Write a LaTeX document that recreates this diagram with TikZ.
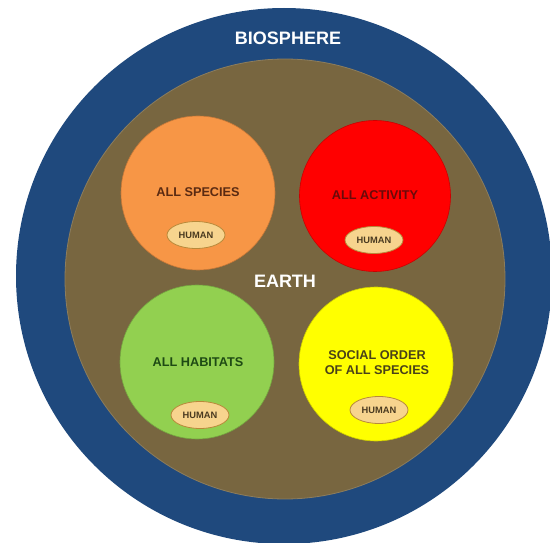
\documentclass[tikz,border=0pt]{standalone}
\usepackage{fontspec}
\setmainfont{Liberation Sans}
\definecolor{bioblue}{HTML}{1F497D}
\definecolor{earthbrown}{HTML}{786640}
\definecolor{corange}{HTML}{F79646}
\definecolor{cred}{HTML}{FF0000}
\definecolor{cgreen}{HTML}{92D050}
\definecolor{cyellow}{HTML}{FFFF00}
\definecolor{humanfill}{HTML}{F7D48E}
\definecolor{humanedge}{HTML}{B8893A}
\definecolor{txtorange}{HTML}{5A2A12}
\definecolor{txtred}{HTML}{6A0A0A}
\definecolor{txtgreen}{HTML}{1E4A14}
\definecolor{txtyellow}{HTML}{4A4218}
\definecolor{txthuman}{HTML}{4A3A20}
\tikzset{
  bigdisk/.style={circle, inner sep=0pt},
  subdisk/.style={circle, inner sep=0pt, minimum size=154pt, draw=#1!80!black, line width=0.6pt, fill=#1},
  human/.style={ellipse, draw=humanedge, line width=0.8pt, fill=humanfill, minimum width=58pt, minimum height=27pt, inner sep=0pt, font=\bfseries\fontsize{9.3}{10}\selectfont, text=txthuman},
  label/.style={font=\bfseries\fontsize{12.7}{15}\selectfont, align=center},
  titletxt/.style={font=\bfseries\fontsize{18}{20}\selectfont, text=white}
}
\usetikzlibrary{shapes.geometric}
\begin{document}
\begin{tikzpicture}[x=1pt,y=-1pt]
\useasboundingbox (0,0) rectangle (550,543);
\fill[white] (0,0) rectangle (550,543);
\node[bigdisk, fill=bioblue, minimum size=536pt] (bio) at (284,276) {};
\node[bigdisk, fill=earthbrown, draw=earthbrown!85!white, line width=0.8pt, minimum size=440pt] (earth) at (285,279) {};
\node[titletxt] (biot) at (288,38) {BIOSPHERE};
\node[titletxt] (eartht) at (285,281) {EARTH};
\node[subdisk=corange] (sp) at (198,193) {};
\node[subdisk=cred, minimum size=151pt] (ac) at (375,196) {};
\node[subdisk=cgreen] (ha) at (197,362) {};
\node[subdisk=cyellow] (so) at (376,364) {};
\node[label, text=txtorange] (spt) at (198,192) {ALL SPECIES};
\node[label, text=txtred] (act) at (375,195) {ALL ACTIVITY};
\node[label, text=txtgreen] (hat) at (198,362) {ALL HABITATS};
\node[label, text=txtyellow] (sot) at (377,363) {SOCIAL ORDER\\OF ALL SPECIES};
\node[human] (h1) at (196,235) {HUMAN};
\node[human] (h2) at (374,240) {HUMAN};
\node[human] (h3) at (200,415) {HUMAN};
\node[human] (h4) at (379,410) {HUMAN};
\end{tikzpicture}
\end{document}
